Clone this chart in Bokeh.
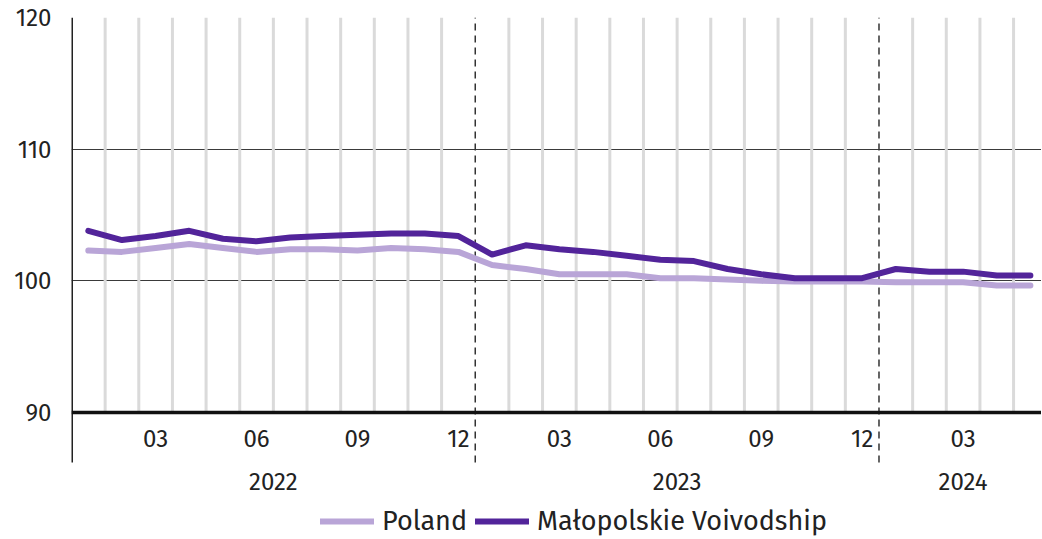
from bokeh.plotting import figure
from bokeh.models import Range1d, FixedTicker, Legend, LegendItem
from bokeh.core.properties import value
from bokeh.embed import file_html
from bokeh.resources import INLINE

# ---- data ----
months = ["2022-01", "2022-02", "2022-03", "2022-04", "2022-05", "2022-06",
          "2022-07", "2022-08", "2022-09", "2022-10", "2022-11", "2022-12",
          "2023-01", "2023-02", "2023-03", "2023-04", "2023-05", "2023-06",
          "2023-07", "2023-08", "2023-09", "2023-10", "2023-11", "2023-12",
          "2024-01", "2024-02", "2024-03", "2024-04", "2024-05"]
poland = [102.3, 102.2, 102.5, 102.8, 102.5, 102.2, 102.4, 102.4, 102.3, 102.5, 102.4, 102.2,
          101.2, 100.9, 100.5, 100.5, 100.5, 100.2, 100.2, 100.1, 100.0, 99.95, 99.95, 99.95,
          99.9, 99.9, 99.9, 99.65, 99.65]
malopolska = [103.8, 103.1, 103.4, 103.8, 103.2, 103.0, 103.3, 103.4, 103.5, 103.6, 103.6, 103.4,
              102.0, 102.7, 102.4, 102.2, 101.9, 101.6, 101.5, 100.9, 100.5, 100.2, 100.2, 100.2,
              100.9, 100.7, 100.7, 100.4, 100.4]
month_tick_labels = ["03", "06", "09", "12"]
years = ["2022", "2023", "2024"]
y_ticks = [90, 100, 110, 120]
series_names = ["Poland", "Małopolskie Voivodship"]

LIGHT = "#b9a5d7"
DARK = "#52249a"
FONT = "Fira Sans"
TXT = "#222222"

x = list(range(len(months)))
n = len(months)

Y0 = 80.51          # bottom of the drawing area (room for labels/legend)
AX_BOTTOM = 86.2    # where the vertical axis line / dashed lines stop
MONTH_Y = 88.03
YEAR_Y = 84.76

p = figure(frame_width=970, frame_height=520, output_backend="svg", toolbar_location=None,
           x_range=Range1d(-0.5, 28.33), y_range=Range1d(Y0, 120.0),
           x_axis_location=None,
           min_border_left=71, min_border_right=0, min_border_top=17, min_border_bottom=0)
p.outline_line_color = None
p.background_fill_color = "white"
p.border_fill_color = "white"

# month boundary lines (gray) and year boundaries (dashed)
gray_x, dash_x = [], []
for i in range(n - 1):
    b = i + 0.5
    if months[i][5:] == "12":
        dash_x.append(b)
    else:
        gray_x.append(b)
gray_x.append(n - 0.5)
p.segment(x0=gray_x, y0=[y_ticks[0]] * len(gray_x), x1=gray_x, y1=[y_ticks[-1]] * len(gray_x),
          line_color="#dadada", line_width=3)

# horizontal grid
p.xgrid.visible = False
p.ygrid.ticker = FixedTicker(ticks=y_ticks[1:])
p.ygrid.grid_line_color = "#3a3a3a"
p.ygrid.grid_line_width = 1.2

p.segment(x0=dash_x, y0=[AX_BOTTOM] * len(dash_x), x1=dash_x, y1=[y_ticks[-1]] * len(dash_x),
          line_color="#333333", line_width=1.5, line_dash="7 5")

# y axis line (stops below the month labels)
p.segment(x0=[-0.5], y0=[AX_BOTTOM], x1=[-0.5], y1=[y_ticks[-1]], line_color=TXT, line_width=3)

# baseline at 90
p.segment(x0=[-0.5], y0=[y_ticks[0]], x1=[n], y1=[y_ticks[0]], line_color="#111111", line_width=3.5)

# series
r1 = p.line(x, poland, line_color=LIGHT, line_width=6, line_join="round", line_cap="round")
r2 = p.line(x, malopolska, line_color=DARK, line_width=6, line_join="round", line_cap="round")

# month labels
mx, mt = [], []
for i, m in enumerate(months):
    if m[5:] in month_tick_labels:
        mx.append(i)
        mt.append(m[5:])
p.text(x=mx, y=[MONTH_Y] * len(mx), text=mt, text_align="center", text_baseline="middle",
       text_font=value(FONT), text_font_size="24px", text_color=TXT)

# year labels
yx = []
for yr in years:
    idx = [i for i, m in enumerate(months) if m.startswith(yr)]
    yx.append((idx[0] + idx[-1]) / 2)
p.text(x=yx, y=[YEAR_Y] * len(yx), text=years, text_align="center", text_baseline="middle",
       text_font=value(FONT), text_font_size="24px", text_color=TXT)

# y axis labels
p.yaxis.ticker = FixedTicker(ticks=y_ticks)
p.yaxis.axis_line_color = None
p.yaxis.major_tick_line_color = None
p.yaxis.minor_tick_line_color = None
p.yaxis.major_label_standoff = 14
p.yaxis.major_label_text_font = FONT
p.yaxis.major_label_text_font_size = "24px"
p.yaxis.major_label_text_color = TXT

legend = Legend(items=[LegendItem(label=series_names[0], renderers=[r1]),
                       LegendItem(label=series_names[1], renderers=[r2])],
                orientation="horizontal", location=(249, 0))
legend.label_text_font = FONT
legend.label_text_font_size = "27px"
legend.label_text_color = TXT
legend.glyph_width = 54
legend.glyph_height = 26
legend.label_standoff = 8
legend.spacing = 8
legend.padding = 0
legend.margin = 0
legend.border_line_color = None
legend.background_fill_alpha = 0
p.add_layout(legend, "center")

open("out.html", "w").write(file_html(p, INLINE))
